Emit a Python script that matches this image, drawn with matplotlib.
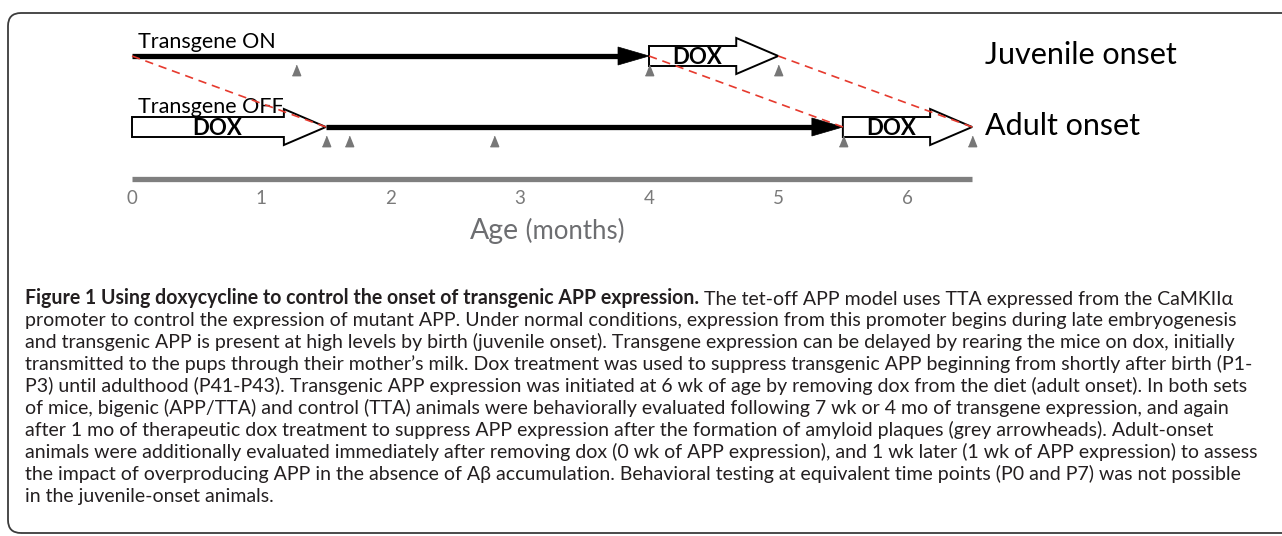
import matplotlib
matplotlib.use("Agg")
import matplotlib.pyplot as plt
from matplotlib.patches import Polygon, FancyBboxPatch

plt.rcParams["font.family"] = ["Lato", "DejaVu Sans"]

# timeline (months)
age_ticks = [0, 1, 2, 3, 4, 5, 6]
age_max = 6.5
group_names = ["Juvenile onset", "Adult onset"]
row_titles = ["Transgene ON", "Transgene OFF"]
on_start = [0.0, 1.5]          # transgene switched on
dox_start = [4.0, 5.5]         # therapeutic dox begins
dox_end = [5.0, 6.5]
rearing_dox = [None, (0.0, 1.5)]   # adult-onset mice reared on dox
test_points = [[1.27, 4.0, 5.0],
               [1.5, 1.68, 2.8, 5.5, 6.5]]
# red dashed guides: (month on juvenile row, month on adult row)
links = [(0.0, 1.5), (4.0, 5.5), (5.0, 6.5)]

caption_bold = "Figure 1 Using doxycycline to control the onset of transgenic APP expression."
caption_lines = [
    " The tet-off APP model uses TTA expressed from the CaMKIIα",
    "promoter to control the expression of mutant APP. Under normal conditions, expression from this promoter begins during late embryogenesis",
    "and transgenic APP is present at high levels by birth (juvenile onset). Transgene expression can be delayed by rearing the mice on dox, initially",
    "transmitted to the pups through their mother’s milk. Dox treatment was used to suppress transgenic APP beginning from shortly after birth (P1-",
    "P3) until adulthood (P41-P43). Transgenic APP expression was initiated at 6 wk of age by removing dox from the diet (adult onset). In both sets",
    "of mice, bigenic (APP/TTA) and control (TTA) animals were behaviorally evaluated following 7 wk or 4 mo of transgene expression, and again",
    "after 1 mo of therapeutic dox treatment to suppress APP expression after the formation of amyloid plaques (grey arrowheads). Adult-onset",
    "animals were additionally evaluated immediately after removing dox (0 wk of APP expression), and 1 wk later (1 wk of APP expression) to assess",
    "the impact of overproducing APP in the absence of Aβ accumulation. Behavioral testing at equivalent time points (P0 and P7) was not possible",
    "in the juvenile-onset animals.",
]

W, H = 1282, 536
PXM = 129.25   # pixels per month
PXR = 71.0     # pixels per row
X0, Y0 = 132, 56

fig = plt.figure(figsize=(W / 100, H / 100), dpi=100)
ax = fig.add_axes([0, 0, 1, 1])
ax.set_xlim(-X0 / PXM, (W - X0) / PXM)
ax.set_ylim((H - Y0) / PXR, -Y0 / PXR)
ax.axis("off")


def dx(p):
    return p / PXM


def dy(p):
    return p / PXR


def line_arrow(x0, x1, r):
    ax.plot([x0, x1 - dx(28)], [r, r], color="black", lw=3.8,
            solid_capstyle="butt", zorder=2)
    ax.add_patch(Polygon([(x1 - dx(31), r - dy(9)), (x1, r), (x1 - dx(31), r + dy(9))],
                         closed=True, fc="black", ec="black", lw=0.5, zorder=2))


def dox_arrow(x0, x1, r, label_x):
    xh = x1 - dx(42)
    verts = [(x0, r - dy(10)), (xh, r - dy(10)), (xh, r - dy(18)), (x1, r),
             (xh, r + dy(18)), (xh, r + dy(10)), (x0, r + dy(10))]
    ax.add_patch(Polygon(verts, closed=True, fc="white", ec="black", lw=1.4, zorder=3))
    ax.text(label_x, r + dy(1), "DOX", ha="center", va="center", fontsize=16,
            fontweight="bold", zorder=4)


for r in range(2):
    line_arrow(on_start[r], dox_start[r], r)
    span = dox_end[r] - dox_start[r]
    dox_arrow(dox_start[r], dox_end[r], r, dox_start[r] + 0.37 * span)
    if rearing_dox[r] is not None:
        a, b = rearing_dox[r]
        dox_arrow(a, b, r, a + 0.44 * (b - a))

# red dashed guides
for a, b in links:
    ax.plot([a, b], [0, 1], color="#e63a2e", lw=1.2, dashes=(5, 3.5), zorder=5)

# grey arrowheads = behavioural testing
tri = [(-0.8, -1), (0.8, -1), (0, 1)]
for r in range(2):
    ax.plot(test_points[r], [r + dy(14)] * len(test_points[r]), ls="none",
            marker=tri, ms=7.5, color="#777777", zorder=6)

# row titles
ax.text(dx(6), -dy(8), row_titles[0], ha="left", va="baseline", fontsize=15.5, zorder=1)
ax.text(dx(6), 1 - dy(14), row_titles[1], ha="left", va="baseline", fontsize=15.5,
        zorder=4)

# group names
for r in range(2):
    ax.text(age_max + dx(13), r - dy(1), group_names[r], ha="left", va="center",
            fontsize=22)

# age axis
y_axis = 1 + dy(52)
ax.plot([0, age_max], [y_axis, y_axis], color="#7f7f7f", lw=3.8, solid_capstyle="butt")
for a in age_ticks:
    ax.text(a, y_axis + dy(19), str(a), ha="center", va="center", fontsize=13.5,
            color="#7a7a7a")
age_t = ax.text(dx(338), y_axis + dy(60), "Age", ha="left", va="baseline",
                fontsize=20.5, color="#6d6e71")
ax.annotate(" (months)", xy=(1, 0), xycoords=age_t, ha="left", va="bottom",
            fontsize=18.5, color="#6d6e71")

# frame
frame = FancyBboxPatch((0.08, 0.03), 13.5, 5.2,
                       boxstyle="round,pad=0,rounding_size=0.13",
                       transform=fig.dpi_scale_trans, fill=False,
                       ec="#3c3c3c", lw=1.3)
fig.add_artist(frame)

# caption, font size fitted to the widest line
fig.canvas.draw()
rend = fig.canvas.get_renderer()
probe = fig.text(0, 0, caption_lines[1], fontsize=14)
w = probe.get_window_extent(rend).width
probe.remove()
cap_fs = 14 * 1218 / w

cap_x = 25 / W
cap_y0 = 298
cap_step = 22.0
t0 = fig.text(cap_x, 1 - (cap_y0 + 6) / H, caption_bold, ha="left", va="baseline",
              fontsize=cap_fs, fontweight="bold", color="#231f20")
ax.annotate(caption_lines[0], xy=(1, 0), xycoords=t0, ha="left", va="bottom",
            fontsize=cap_fs, color="#231f20")
for i, line in enumerate(caption_lines[1:], start=1):
    fig.text(cap_x, 1 - (cap_y0 + 6 + i * cap_step) / H, line, ha="left", va="baseline",
             fontsize=cap_fs, color="#231f20")

fig.savefig("out.png", dpi=100)
